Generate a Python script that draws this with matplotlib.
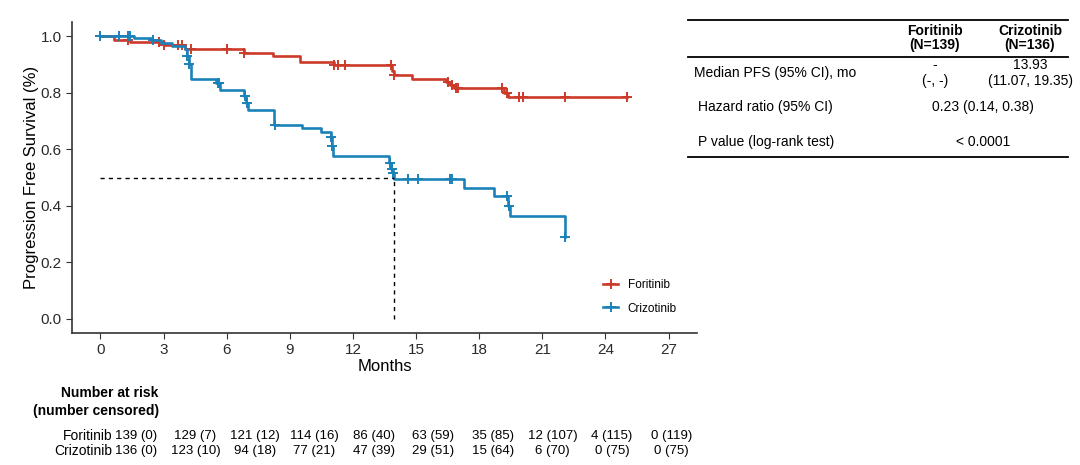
import numpy as np
import matplotlib.pyplot as plt
from matplotlib.lines import Line2D

plt.rcParams['font.family'] = ['Liberation Sans', 'DejaVu Sans']

# Kaplan-Meier steps
fori_t = [0, 0.63, 1.4, 3.0, 4.0, 6.8, 8.2, 9.5, 11.1, 13.85, 13.95, 14.8, 16.4, 16.6, 16.8, 19.2, 19.35, 25.0]
fori_s = [1.0, 0.986, 0.978, 0.97, 0.955, 0.94, 0.93, 0.907, 0.898, 0.875, 0.863, 0.849, 0.838, 0.828, 0.817, 0.80, 0.785, 0.785]
fori_cens = [1.3, 2.8, 3.0, 3.7, 3.9, 4.3, 6.0, 6.8, 11.1, 11.3, 11.6, 13.8, 13.95, 16.5, 16.7, 16.9, 17.0,
             19.1, 19.3, 19.9, 20.1, 22.1, 25.0]

criz_t = [0, 1.6, 2.4, 2.9, 3.4, 4.0, 4.1, 4.2, 4.3, 5.5, 5.7, 6.8, 6.9, 7.0, 8.25, 9.6, 10.5, 10.95, 11.0,
          11.05, 13.7, 13.8, 13.9, 13.95, 17.3, 18.7, 19.35, 19.45, 22.1]
criz_s = [1.0, 0.993, 0.985, 0.977, 0.965, 0.954, 0.93, 0.90, 0.85, 0.834, 0.81, 0.79, 0.765, 0.74, 0.684,
          0.674, 0.66, 0.645, 0.61, 0.575, 0.55, 0.53, 0.515, 0.495, 0.462, 0.435, 0.40, 0.365, 0.29]
criz_cens = [0, 0.9, 1.3, 1.4, 2.5, 4.1, 4.2, 5.6, 5.65, 6.85, 6.95, 8.3, 10.95, 11.0, 13.75, 13.85, 13.9,
             14.6, 15.1, 16.6, 16.7, 19.3, 19.4, 22.1]

median_criz = 13.93
months_ticks = [0, 3, 6, 9, 12, 15, 18, 21, 24, 27]

fori_risk = ['139 (0)', '129 (7)', '121 (12)', '114 (16)', '86 (40)', '63 (59)', '35 (85)', '12 (107)', '4 (115)', '0 (119)']
criz_risk = ['136 (0)', '123 (10)', '94 (18)', '77 (21)', '47 (39)', '29 (51)', '15 (64)', '6 (70)', '0 (75)', '0 (75)']

red = '#cc3a2a'
blue = '#1a82b8'

W, H = 1080, 465
fig = plt.figure(figsize=(W / 100, H / 100), dpi=100)
ax = fig.add_axes([72 / W, 1 - 333 / H, 625 / W, 311 / H])


def cens_y(t, s, c):
    idx = np.searchsorted(t, c, side='right') - 1
    return np.array(s)[idx]


for t, s, c, col in [(fori_t, fori_s, fori_cens, red), (criz_t, criz_s, criz_cens, blue)]:
    ax.step(t, s, where='post', color=col, lw=1.9)
    ax.plot(c, cens_y(t, s, c), ls='none', marker='+', ms=6.5, mew=1.4, color=col)

ax.plot([0, median_criz], [0.5, 0.5], color='black', ls=(0, (3, 3)), lw=1)
ax.plot([median_criz, median_criz], [0, 0.5], color='black', ls=(0, (3, 3)), lw=1)

ax.set_xlim(-1.35, 28.35)
ax.set_ylim(-0.05, 1.05)
ax.set_xticks(months_ticks)
ax.set_yticks([0, 0.2, 0.4, 0.6, 0.8, 1.0])
ax.set_yticklabels(['0.0', '0.2', '0.4', '0.6', '0.8', '1.0'])
ax.tick_params(labelsize=11, colors='#333333', length=4, labelcolor='#2a2a2a')
for sp in ['top', 'right']:
    ax.spines[sp].set_visible(False)
for sp in ['left', 'bottom']:
    ax.spines[sp].set_color('#333333')
    ax.spines[sp].set_linewidth(1.2)
ax.set_xlabel('Months', fontsize=12, labelpad=1)
ax.set_ylabel('Progression Free Survival (%)', fontsize=12, labelpad=1)

handles = [Line2D([], [], color=red, marker='+', ms=7, mew=1.4, lw=1.9),
           Line2D([], [], color=blue, marker='+', ms=7, mew=1.4, lw=1.9)]
ax.legend(handles, ['Foritinib', 'Crizotinib'], loc='lower right', bbox_to_anchor=(0.985, 0.025),
          frameon=False, fontsize=8.5, handlelength=1.3, labelspacing=1.0)

# overlay in pixel coordinates for the tables
ov = fig.add_axes([0, 0, 1, 1], facecolor='none')
ov.set_xlim(0, W)
ov.set_ylim(H, 0)
ov.axis('off')

# summary table
for y in [20, 57, 157]:
    ov.plot([688, 1068], [y, y], color='black', lw=1.3)
ov.text(935, 38, 'Foritinib\n(N=139)', ha='center', va='center', fontsize=10, fontweight='bold', linespacing=1.0)
ov.text(1030, 38, 'Crizotinib\n(N=136)', ha='center', va='center', fontsize=10, fontweight='bold', linespacing=1.0)
ov.text(694, 73, 'Median PFS (95% CI), mo', ha='left', va='center', fontsize=10)
ov.text(935, 73, '-\n(-, -)', ha='center', va='center', fontsize=10, linespacing=1.15)
ov.text(1030, 73, '13.93\n(11.07, 19.35)', ha='center', va='center', fontsize=10, linespacing=1.15)
ov.text(698, 107, 'Hazard ratio (95% CI)', ha='left', va='center', fontsize=10)
ov.text(983, 107, '0.23 (0.14, 0.38)', ha='center', va='center', fontsize=10)
ov.text(698, 142, 'P value (log-rank test)', ha='left', va='center', fontsize=10)
ov.text(983, 142, '< 0.0001', ha='center', va='center', fontsize=10)

# number at risk
ov.text(158, 393, 'Number at risk', ha='right', va='center', fontsize=10, fontweight='bold')
ov.text(159, 411, '(number censored)', ha='right', va='center', fontsize=10, fontweight='bold')
ov.text(112, 436, 'Foritinib', ha='right', va='center', fontsize=10)
ov.text(112, 451, 'Crizotinib', ha='right', va='center', fontsize=10)
for i, (a, b) in enumerate(zip(fori_risk, criz_risk)):
    x = 136 + 59.5 * i
    ov.text(x, 436, a, ha='center', va='center', fontsize=9.5)
    ov.text(x, 451, b, ha='center', va='center', fontsize=9.5)

fig.savefig('out.png', dpi=100)
